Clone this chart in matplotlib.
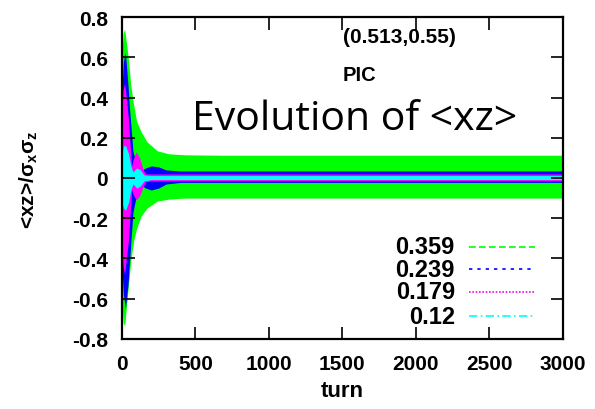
import matplotlib
matplotlib.use("Agg")
import matplotlib.pyplot as plt
import numpy as np

plt.rcParams['font.family'] = ['Liberation Sans', 'DejaVu Sans']
plt.rcParams['mathtext.fontset'] = 'custom'
plt.rcParams['mathtext.bf'] = 'Liberation Sans:bold'
plt.rcParams['mathtext.rm'] = 'Liberation Sans:bold'
plt.rcParams['mathtext.it'] = 'Liberation Sans:bold'

# Oscillation envelopes of <xz>/(sigma_x sigma_z) versus turn, one per tune
series_labels = ['0.359', '0.239', '0.179', '0.12']

turns_0359 = [0, 8, 18, 41, 60, 80, 100, 130, 170, 240, 320, 430, 700, 3000]
upper_0359 = [0.62, 0.72, 0.74, 0.61, 0.46, 0.36, 0.28, 0.23, 0.18, 0.135, 0.12, 0.115, 0.113, 0.113]
lower_0359 = [-0.62, -0.72, -0.735, -0.56, -0.41, -0.31, -0.25, -0.19, -0.15, -0.115, -0.105, -0.10, -0.10, -0.10]

turns_0239 = [0, 10, 23, 41, 52, 64, 75, 100, 130, 160, 200, 250, 300, 400, 3000]
upper_0239 = [0.45, 0.58, 0.625, 0.46, 0.34, 0.23, 0.13, 0.07, 0.035, 0.05, 0.06, 0.055, 0.04, 0.035, 0.035]
lower_0239 = [-0.45, -0.58, -0.65, -0.53, -0.41, -0.28, -0.17, -0.08, -0.035, -0.05, -0.06, -0.05, -0.03, -0.022, -0.022]

turns_0179 = [0, 8, 18, 30, 44, 58, 66, 75, 96, 120, 145, 160, 200, 3000]
upper_0179 = [0.35, 0.44, 0.47, 0.40, 0.29, 0.14, 0.06, 0.09, 0.13, 0.10, 0.04, 0.02, 0.02, 0.02]
lower_0179 = [-0.35, -0.44, -0.48, -0.40, -0.31, -0.15, -0.06, -0.08, -0.11, -0.09, -0.04, -0.02, -0.015, -0.015]

turns_012 = [0, 10, 25, 45, 60, 75, 100, 125, 150, 200, 3000]
upper_012 = [0.12, 0.16, 0.16, 0.12, 0.06, 0.03, 0.05, 0.04, 0.015, 0.012, 0.012]
lower_012 = [-0.12, -0.15, -0.16, -0.12, -0.06, -0.03, -0.05, -0.04, -0.015, -0.008, -0.008]

x_ticks = [0, 500, 1000, 1500, 2000, 2500, 3000]
y_ticks = [-0.8, -0.6, -0.4, -0.2, 0, 0.2, 0.4, 0.6, 0.8]
y_tick_labels = ['-0.8', '-0.6', '-0.4', '-0.2', '0', '0.2', '0.4', '0.6', '0.8']

colors = ['#00ff00', '#0000ff', '#ff00ff', '#00ffff']
styles = [(0, (4, 2)), (0, (2, 3)), (0, (1, 1)), (0, (5, 2, 1, 2))]

envelopes = [
    (turns_0359, upper_0359, lower_0359),
    (turns_0239, upper_0239, lower_0239),
    (turns_0179, upper_0179, lower_0179),
    (turns_012, upper_012, lower_012),
]

fig = plt.figure(figsize=(5.95, 4.10), dpi=100)
ax = fig.add_axes([0.205, 0.171, 0.741, 0.785])

for (t, up, lo), c in zip(envelopes, colors):
    ax.fill_between(t, lo, up, color=c, linewidth=0)

ax.set_xlim(0, 3000)
ax.set_ylim(-0.8, 0.8)
ax.set_xticks(x_ticks)
ax.set_xticklabels([str(v) for v in x_ticks])
ax.set_yticks(y_ticks)
ax.set_yticklabels(y_tick_labels)
ax.tick_params(direction='in', length=9, width=1.2, top=True, right=True,
               labelsize=15)
ax.tick_params(axis='x', pad=11)
ax.tick_params(axis='y', pad=10)
for lab in ax.get_xticklabels() + ax.get_yticklabels():
    lab.set_fontweight('bold')
for sp in ax.spines.values():
    sp.set_linewidth(1.6)

ax.set_xlabel('turn', fontsize=16, fontweight='bold', labelpad=5)
ax.set_ylabel(r'<xz>/$\mathbf{\sigma_x\sigma_z}$', fontsize=15, fontweight='bold')
ax.yaxis.set_label_coords(-0.186, 0.497)

# Annotations
ax.text(0.501, 0.94, '(0.513,0.55)', transform=ax.transAxes, fontsize=15,
        fontweight='bold', ha='left', va='center')
ax.text(0.501, 0.82, 'PIC', transform=ax.transAxes, fontsize=14.5,
        fontweight='bold', ha='left', va='center')
ax.text(0.528, 0.652, 'Evolution of <xz>', transform=ax.transAxes, fontsize=29.5,
        family=['Open Sans', 'DejaVu Sans'], ha='center', va='baseline')

# Key: right-aligned labels with line samples to their right
key_rows = [0.286, 0.217, 0.146, 0.071]
for lab, c, ls, yk in zip(series_labels, colors, styles, key_rows):
    ax.text(0.755, yk, lab, transform=ax.transAxes, fontsize=17,
            fontweight='bold', ha='right', va='center')
    ax.plot([0.787, 0.937], [yk, yk], transform=ax.transAxes, color=c,
            linestyle=ls, linewidth=1.2)

fig.savefig('out.png', dpi=100)
